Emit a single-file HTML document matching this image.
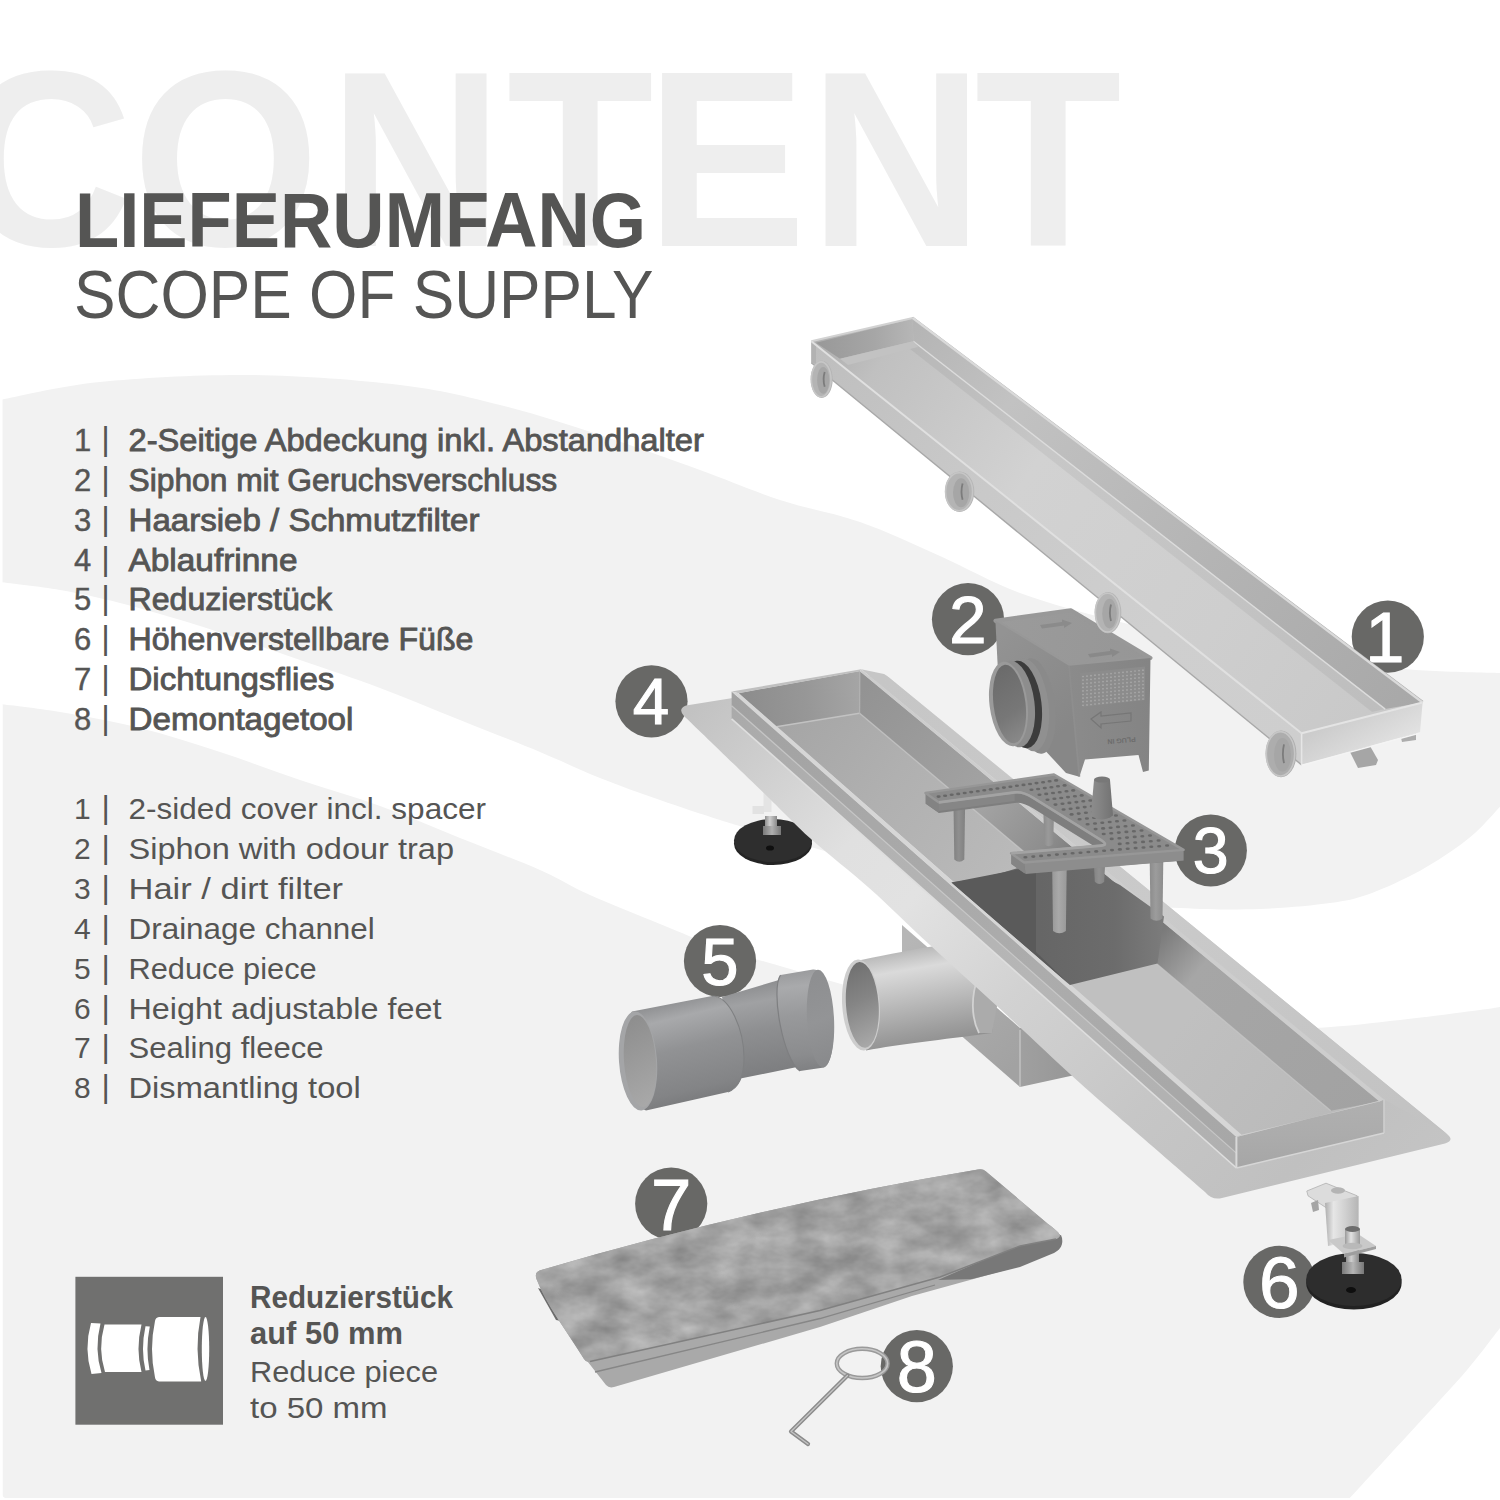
<!DOCTYPE html>
<html lang="de">
<head>
<meta charset="utf-8">
<title>Lieferumfang / Scope of supply</title>
<style>
html,body{margin:0;padding:0;background:#fff;}
body{width:1500px;height:1500px;overflow:hidden;position:relative;font-family:"Liberation Sans",sans-serif;}
svg{display:block;position:absolute;left:0;top:0;}
text{font-family:"Liberation Sans",sans-serif;}
</style>
</head>
<body>
<svg width="1500" height="1500" viewBox="0 0 1500 1500">
<g><rect width="1500" height="1500" fill="#ffffff"/>
<path d="M0.0 400.0C16.7 397.0 58.3 386.2 100.0 382.0 C141.7 377.8 200.0 374.5 250.0 375.0 C300.0 375.5 358.3 380.0 400.0 385.0 C441.7 390.0 466.7 396.7 500.0 405.0 C533.3 413.3 566.7 424.2 600.0 435.0 C633.3 445.8 670.0 459.2 700.0 470.0 C730.0 480.8 753.3 491.3 780.0 500.0 C806.7 508.7 833.3 512.7 860.0 522.0 C886.7 531.3 913.3 544.2 940.0 556.0 C966.7 567.8 990.0 582.0 1020.0 593.0 C1050.0 604.0 1081.7 612.5 1120.0 622.0 C1158.3 631.5 1211.7 643.0 1250.0 650.0 C1288.3 657.0 1320.8 660.6 1350.0 664.0 C1379.2 667.4 1400.0 669.0 1425.0 670.5 C1450.0 672.0 1487.5 672.6 1500.0 673.0L1500.0 806.7C1495.8 811.1 1484.0 825.0 1475.0 833.0 C1466.0 841.0 1456.8 847.5 1446.0 854.7 C1435.2 861.9 1423.2 869.3 1410.0 876.0 C1396.8 882.7 1380.3 890.2 1367.0 894.7 C1353.7 899.2 1347.8 900.6 1330.0 903.0 C1312.2 905.4 1285.0 908.2 1260.0 909.0 C1235.0 909.8 1215.0 909.8 1180.0 908.0 C1145.0 906.2 1088.3 902.3 1050.0 898.0 C1011.7 893.7 983.3 888.7 950.0 882.0 C916.7 875.3 881.7 866.3 850.0 858.0 C818.3 849.7 781.7 838.3 760.0 832.0 C738.3 825.7 736.7 825.3 720.0 820.0 C703.3 814.7 680.0 807.0 660.0 800.0 C640.0 793.0 620.0 786.0 600.0 778.0 C580.0 770.0 563.3 761.7 540.0 752.0 C516.7 742.3 486.7 730.7 460.0 720.0 C433.3 709.3 406.7 698.0 380.0 688.0 C353.3 678.0 330.0 670.3 300.0 660.0 C270.0 649.7 230.0 635.5 200.0 626.0 C170.0 616.5 143.3 609.0 120.0 603.0 C96.7 597.0 80.0 593.5 60.0 590.0 C40.0 586.5 10.0 583.3 0.0 582.0Z" fill="#f2f2f2"/>
<path d="M0.0 704.0C10.0 705.3 36.7 708.0 60.0 712.0 C83.3 716.0 113.3 721.3 140.0 728.0 C166.7 734.7 193.3 743.3 220.0 752.0 C246.7 760.7 273.3 771.0 300.0 780.0 C326.7 789.0 353.3 796.3 380.0 806.0 C406.7 815.7 433.3 827.3 460.0 838.0 C486.7 848.7 518.3 860.5 540.0 870.0 C561.7 879.5 570.0 886.0 590.0 895.0 C610.0 904.0 638.3 915.2 660.0 924.0 C681.7 932.8 700.0 941.0 720.0 948.0 C740.0 955.0 753.3 958.3 780.0 966.0 C806.7 973.7 843.3 985.7 880.0 994.0 C916.7 1002.3 963.3 1010.5 1000.0 1016.0 C1036.7 1021.5 1066.7 1024.3 1100.0 1027.0 C1133.3 1029.7 1164.0 1031.8 1200.0 1032.0 C1236.0 1032.2 1282.7 1030.0 1316.0 1028.0 C1349.3 1026.0 1372.7 1023.0 1400.0 1020.0 C1427.3 1017.0 1463.3 1012.2 1480.0 1010.0 C1496.7 1007.8 1496.7 1007.5 1500.0 1007.0L1500.0 1328.0C1494.5 1335.0 1480.8 1353.8 1467.0 1370.0 C1453.2 1386.2 1431.0 1409.7 1417.0 1425.0 C1403.0 1440.3 1394.5 1449.5 1383.0 1462.0 C1371.5 1474.5 1353.8 1493.7 1348.0 1500.0L6 1498 Q2.5 1498 2.5 1494 L2.5 704Z" fill="#f2f2f2"/>
<rect x="0" y="0" width="2.5" height="1500" fill="#ffffff"/>
<rect x="0" y="1498" width="1500" height="2" fill="#ffffff"/></g>
<g><text transform="scale(0.960,1)" x="-42.6 137.8 342.6 527.8 672.8 843.2 1015.3" y="246.4" font-size="250.5" font-weight="bold" fill="#eeeeee">CONTENT</text>
<text x="75.0" y="247.4" font-size="78.0" font-weight="bold" fill="#555554" textLength="571.0" lengthAdjust="spacingAndGlyphs">LIEFERUMFANG</text>
<text x="74.0" y="317.6" font-size="69.0" font-weight="normal" fill="#555554" textLength="579.5" lengthAdjust="spacingAndGlyphs">SCOPE OF SUPPLY</text>
<text x="74.0" y="451.2" font-size="31.0" font-weight="normal" fill="#555554" stroke="#555554" stroke-width="0.4">1</text>
<text x="101.3" y="450.2" font-size="33.0" font-weight="normal" fill="#555554">|</text>
<text x="128.5" y="451.2" font-size="31.0" font-weight="normal" fill="#555554" textLength="575.4" lengthAdjust="spacingAndGlyphs" stroke="#555554" stroke-width="0.85">2-Seitige Abdeckung inkl. Abstandhalter</text>
<text x="74.0" y="490.9" font-size="31.0" font-weight="normal" fill="#555554" stroke="#555554" stroke-width="0.4">2</text>
<text x="101.3" y="489.9" font-size="33.0" font-weight="normal" fill="#555554">|</text>
<text x="128.5" y="490.9" font-size="31.0" font-weight="normal" fill="#555554" textLength="428.7" lengthAdjust="spacingAndGlyphs" stroke="#555554" stroke-width="0.85">Siphon mit Geruchsverschluss</text>
<text x="74.0" y="530.7" font-size="31.0" font-weight="normal" fill="#555554" stroke="#555554" stroke-width="0.4">3</text>
<text x="101.3" y="529.7" font-size="33.0" font-weight="normal" fill="#555554">|</text>
<text x="128.5" y="530.7" font-size="31.0" font-weight="normal" fill="#555554" textLength="351.0" lengthAdjust="spacingAndGlyphs" stroke="#555554" stroke-width="0.85">Haarsieb / Schmutzfilter</text>
<text x="74.0" y="570.5" font-size="31.0" font-weight="normal" fill="#555554" stroke="#555554" stroke-width="0.4">4</text>
<text x="101.3" y="569.5" font-size="33.0" font-weight="normal" fill="#555554">|</text>
<text x="128.5" y="570.5" font-size="31.0" font-weight="normal" fill="#555554" textLength="169.0" lengthAdjust="spacingAndGlyphs" stroke="#555554" stroke-width="0.85">Ablaufrinne</text>
<text x="74.0" y="610.2" font-size="31.0" font-weight="normal" fill="#555554" stroke="#555554" stroke-width="0.4">5</text>
<text x="101.3" y="609.2" font-size="33.0" font-weight="normal" fill="#555554">|</text>
<text x="128.5" y="610.2" font-size="31.0" font-weight="normal" fill="#555554" textLength="203.5" lengthAdjust="spacingAndGlyphs" stroke="#555554" stroke-width="0.85">Reduzierstück</text>
<text x="74.0" y="650.0" font-size="31.0" font-weight="normal" fill="#555554" stroke="#555554" stroke-width="0.4">6</text>
<text x="101.3" y="649.0" font-size="33.0" font-weight="normal" fill="#555554">|</text>
<text x="128.5" y="650.0" font-size="31.0" font-weight="normal" fill="#555554" textLength="345.0" lengthAdjust="spacingAndGlyphs" stroke="#555554" stroke-width="0.85">Höhenverstellbare Füße</text>
<text x="74.0" y="689.7" font-size="31.0" font-weight="normal" fill="#555554" stroke="#555554" stroke-width="0.4">7</text>
<text x="101.3" y="688.7" font-size="33.0" font-weight="normal" fill="#555554">|</text>
<text x="128.5" y="689.7" font-size="31.0" font-weight="normal" fill="#555554" textLength="205.8" lengthAdjust="spacingAndGlyphs" stroke="#555554" stroke-width="0.85">Dichtungsflies</text>
<text x="74.0" y="729.5" font-size="31.0" font-weight="normal" fill="#555554" stroke="#555554" stroke-width="0.4">8</text>
<text x="101.3" y="728.5" font-size="33.0" font-weight="normal" fill="#555554">|</text>
<text x="128.5" y="729.5" font-size="31.0" font-weight="normal" fill="#555554" textLength="224.9" lengthAdjust="spacingAndGlyphs" stroke="#555554" stroke-width="0.85">Demontagetool</text>
<text x="74.0" y="819.0" font-size="30.0" font-weight="normal" fill="#555554">1</text>
<text x="101.5" y="818.0" font-size="32.0" font-weight="normal" fill="#555554">|</text>
<text x="128.5" y="819.0" font-size="30.0" font-weight="normal" fill="#555554" textLength="357.5" lengthAdjust="spacingAndGlyphs">2-sided cover incl. spacer</text>
<text x="74.0" y="858.9" font-size="30.0" font-weight="normal" fill="#555554">2</text>
<text x="101.5" y="857.9" font-size="32.0" font-weight="normal" fill="#555554">|</text>
<text x="128.5" y="858.9" font-size="30.0" font-weight="normal" fill="#555554" textLength="325.5" lengthAdjust="spacingAndGlyphs">Siphon with odour trap</text>
<text x="74.0" y="898.8" font-size="30.0" font-weight="normal" fill="#555554">3</text>
<text x="101.5" y="897.8" font-size="32.0" font-weight="normal" fill="#555554">|</text>
<text x="128.5" y="898.8" font-size="30.0" font-weight="normal" fill="#555554" textLength="214.6" lengthAdjust="spacingAndGlyphs">Hair / dirt filter</text>
<text x="74.0" y="938.7" font-size="30.0" font-weight="normal" fill="#555554">4</text>
<text x="101.5" y="937.7" font-size="32.0" font-weight="normal" fill="#555554">|</text>
<text x="128.5" y="938.7" font-size="30.0" font-weight="normal" fill="#555554" textLength="246.3" lengthAdjust="spacingAndGlyphs">Drainage channel</text>
<text x="74.0" y="978.6" font-size="30.0" font-weight="normal" fill="#555554">5</text>
<text x="101.5" y="977.6" font-size="32.0" font-weight="normal" fill="#555554">|</text>
<text x="128.5" y="978.6" font-size="30.0" font-weight="normal" fill="#555554" textLength="188.2" lengthAdjust="spacingAndGlyphs">Reduce piece</text>
<text x="74.0" y="1018.5" font-size="30.0" font-weight="normal" fill="#555554">6</text>
<text x="101.5" y="1017.5" font-size="32.0" font-weight="normal" fill="#555554">|</text>
<text x="128.5" y="1018.5" font-size="30.0" font-weight="normal" fill="#555554" textLength="312.9" lengthAdjust="spacingAndGlyphs">Height adjustable feet</text>
<text x="74.0" y="1058.4" font-size="30.0" font-weight="normal" fill="#555554">7</text>
<text x="101.5" y="1057.4" font-size="32.0" font-weight="normal" fill="#555554">|</text>
<text x="128.5" y="1058.4" font-size="30.0" font-weight="normal" fill="#555554" textLength="195.0" lengthAdjust="spacingAndGlyphs">Sealing fleece</text>
<text x="74.0" y="1098.3" font-size="30.0" font-weight="normal" fill="#555554">8</text>
<text x="101.5" y="1097.3" font-size="32.0" font-weight="normal" fill="#555554">|</text>
<text x="128.5" y="1098.3" font-size="30.0" font-weight="normal" fill="#555554" textLength="232.2" lengthAdjust="spacingAndGlyphs">Dismantling tool</text>
<text x="250.0" y="1308.2" font-size="30.5" font-weight="bold" fill="#555554" textLength="203.0" lengthAdjust="spacingAndGlyphs">Reduzierstück</text>
<text x="250.0" y="1344.4" font-size="30.5" font-weight="bold" fill="#555554" textLength="153.0" lengthAdjust="spacingAndGlyphs">auf 50 mm</text>
<text x="250.0" y="1381.8" font-size="30.0" font-weight="normal" fill="#555554" textLength="188.0" lengthAdjust="spacingAndGlyphs">Reduce piece</text>
<text x="250.0" y="1418.2" font-size="30.0" font-weight="normal" fill="#555554" textLength="137.5" lengthAdjust="spacingAndGlyphs">to 50 mm</text></g>
<g><circle cx="1387.8" cy="636.7" r="36.1" fill="#686866"/>
<text x="1384.8" y="662.4" font-size="70.5" font-weight="normal" fill="#ffffff" stroke="#ffffff" stroke-width="1.1" text-anchor="middle">1</text>
<circle cx="968.0" cy="619.2" r="36.1" fill="#686866"/>
<text x="968.0" y="642.7" font-size="67.0" font-weight="normal" fill="#ffffff" stroke="#ffffff" stroke-width="1.1" text-anchor="middle">2</text>
<circle cx="1210.8" cy="850.5" r="36.1" fill="#686866"/>
<text x="1210.8" y="873.4" font-size="64.5" font-weight="normal" fill="#ffffff" stroke="#ffffff" stroke-width="1.1" text-anchor="middle">3</text>
<circle cx="651.5" cy="701.3" r="36.1" fill="#686866"/>
<text x="651.0" y="724.2" font-size="65.5" font-weight="normal" fill="#ffffff" stroke="#ffffff" stroke-width="1.1" text-anchor="middle">4</text>
<circle cx="720.0" cy="961.0" r="36.1" fill="#686866"/>
<text x="720.0" y="984.5" font-size="67.0" font-weight="normal" fill="#ffffff" stroke="#ffffff" stroke-width="1.1" text-anchor="middle">5</text>
<circle cx="1279.4" cy="1281.9" r="36.1" fill="#686866"/>
<text x="1279.4" y="1307.5" font-size="73.0" font-weight="normal" fill="#ffffff" stroke="#ffffff" stroke-width="1.1" text-anchor="middle">6</text>
<circle cx="671.2" cy="1203.7" r="36.1" fill="#686866"/>
<text x="671.2" y="1230.2" font-size="72.5" font-weight="normal" fill="#ffffff" stroke="#ffffff" stroke-width="1.1" text-anchor="middle">7</text>
<circle cx="916.8" cy="1366.2" r="36.1" fill="#686866"/>
<text x="916.8" y="1391.9" font-size="72.0" font-weight="normal" fill="#ffffff" stroke="#ffffff" stroke-width="1.1" text-anchor="middle">8</text></g>
<defs><linearGradient id="g1" gradientUnits="userSpaceOnUse" x1="765.0" y1="0.0" x2="777.0" y2="0.0"><stop offset="0" stop-color="#8f8f8f"/><stop offset="0.4" stop-color="#cfcfcf"/><stop offset="1" stop-color="#8a8a8a"/></linearGradient>
<linearGradient id="g2" gradientUnits="userSpaceOnUse" x1="763.0" y1="0.0" x2="781.0" y2="0.0"><stop offset="0" stop-color="#7a7a7a"/><stop offset="0.5" stop-color="#b0b0b0"/><stop offset="1" stop-color="#777777"/></linearGradient>
<linearGradient id="g3" gradientUnits="userSpaceOnUse" x1="902.0" y1="950.0" x2="1020.0" y2="1060.0"><stop offset="0" stop-color="#b6b6b6"/><stop offset="0.6" stop-color="#a9a9a9"/><stop offset="1" stop-color="#a2a2a2"/></linearGradient>
<linearGradient id="g4" gradientUnits="userSpaceOnUse" x1="1020.0" y1="0.0" x2="1075.0" y2="0.0"><stop offset="0" stop-color="#a0a0a0"/><stop offset="1" stop-color="#969696"/></linearGradient>
<linearGradient id="g5" gradientUnits="userSpaceOnUse" x1="905.0" y1="948.0" x2="922.0" y2="1046.0"><stop offset="0" stop-color="#b4b4b4"/><stop offset="0.22" stop-color="#dadada"/><stop offset="0.5" stop-color="#bfbfbf"/><stop offset="0.85" stop-color="#9d9d9d"/><stop offset="1" stop-color="#909090"/></linearGradient>
<linearGradient id="g6" gradientUnits="userSpaceOnUse" x1="845.0" y1="960.0" x2="882.0" y2="1050.0"><stop offset="0" stop-color="#6c6c6c"/><stop offset="0.45" stop-color="#858585"/><stop offset="1" stop-color="#b0b0b0"/></linearGradient>
<linearGradient id="g7" gradientUnits="userSpaceOnUse" x1="690.0" y1="712.0" x2="1330.0" y2="1280.0"><stop offset="0" stop-color="#c2c2c2"/><stop offset="0.1" stop-color="#cecece"/><stop offset="0.24" stop-color="#e0e0e0"/><stop offset="0.34" stop-color="#e2e2e2"/><stop offset="0.5" stop-color="#d2d2d2"/><stop offset="0.7" stop-color="#c6c6c6"/><stop offset="0.88" stop-color="#c0c0c0"/><stop offset="1" stop-color="#c4c4c4"/></linearGradient>
<linearGradient id="g8" gradientUnits="userSpaceOnUse" x1="880.0" y1="680.0" x2="1440.0" y2="1130.0"><stop offset="0" stop-color="#c6c6c6"/><stop offset="0.5" stop-color="#cacaca"/><stop offset="1" stop-color="#c2c2c2"/></linearGradient>
<linearGradient id="g9" gradientUnits="userSpaceOnUse" x1="735.0" y1="700.0" x2="1236.0" y2="1150.0"><stop offset="0" stop-color="#aaaaaa"/><stop offset="0.3" stop-color="#b2b2b2"/><stop offset="0.6" stop-color="#b6b6b6"/><stop offset="1" stop-color="#b0b0b0"/></linearGradient>
<linearGradient id="g10" gradientUnits="userSpaceOnUse" x1="0.0" y1="1100.0" x2="0.0" y2="1168.0"><stop offset="0" stop-color="#b0b0b0"/><stop offset="0.5" stop-color="#acacac"/><stop offset="1" stop-color="#a6a6a6"/></linearGradient>
<linearGradient id="g11" gradientUnits="userSpaceOnUse" x1="770.0" y1="715.0" x2="1320.0" y2="1125.0"><stop offset="0" stop-color="#a4a4a4"/><stop offset="0.2" stop-color="#b0b0b0"/><stop offset="0.4" stop-color="#b9b9b9"/><stop offset="0.52" stop-color="#c0c0c0"/><stop offset="0.75" stop-color="#c0c0c0"/><stop offset="1" stop-color="#bababa"/></linearGradient>
<linearGradient id="g12" gradientUnits="userSpaceOnUse" x1="740.0" y1="700.0" x2="860.0" y2="690.0"><stop offset="0" stop-color="#8c8c8c"/><stop offset="0.55" stop-color="#979797"/><stop offset="1" stop-color="#a5a5a5"/></linearGradient>
<linearGradient id="g13" gradientUnits="userSpaceOnUse" x1="862.0" y1="690.0" x2="1380.0" y2="1105.0"><stop offset="0" stop-color="#939393"/><stop offset="0.25" stop-color="#a3a3a3"/><stop offset="0.36" stop-color="#8e8e8e"/><stop offset="0.44" stop-color="#6c6c6c"/><stop offset="0.58" stop-color="#7a7a7a"/><stop offset="0.66" stop-color="#a6a6a6"/><stop offset="1" stop-color="#a2a2a2"/></linearGradient>
<linearGradient id="g14" gradientUnits="userSpaceOnUse" x1="1040.0" y1="0.0" x2="1165.0" y2="0.0"><stop offset="0" stop-color="#666666"/><stop offset="0.6" stop-color="#6c6c6c"/><stop offset="1" stop-color="#7c7c7c"/></linearGradient>
<linearGradient id="g15" gradientUnits="userSpaceOnUse" x1="811.0" y1="350.0" x2="1301.0" y2="750.0"><stop offset="0" stop-color="#bebebe"/><stop offset="0.3" stop-color="#c8c8c8"/><stop offset="0.7" stop-color="#cfcfcf"/><stop offset="1" stop-color="#cecece"/></linearGradient>
<linearGradient id="g16" gradientUnits="userSpaceOnUse" x1="1301.0" y1="740.0" x2="1330.0" y2="790.0"><stop offset="0" stop-color="#cccccc"/><stop offset="0.5" stop-color="#d8d8d8"/><stop offset="1" stop-color="#e4e4e4"/></linearGradient>
<linearGradient id="g17" gradientUnits="userSpaceOnUse" x1="830.0" y1="340.0" x2="1400.0" y2="720.0"><stop offset="0" stop-color="#b0b0b0"/><stop offset="0.08" stop-color="#c0c0c0"/><stop offset="0.35" stop-color="#d2d2d2"/><stop offset="0.7" stop-color="#cecece"/><stop offset="1" stop-color="#c8c8c8"/></linearGradient>
<linearGradient id="g18" gradientUnits="userSpaceOnUse" x1="912.0" y1="320.0" x2="1420.0" y2="705.0"><stop offset="0" stop-color="#b4b4b4"/><stop offset="0.2" stop-color="#c2c2c2"/><stop offset="0.6" stop-color="#b4b4b4"/><stop offset="1" stop-color="#a8a8a8"/></linearGradient>
<linearGradient id="g19" gradientUnits="userSpaceOnUse" x1="816.0" y1="0.0" x2="913.0" y2="0.0"><stop offset="0" stop-color="#989898"/><stop offset="0.6" stop-color="#a6a6a6"/><stop offset="1" stop-color="#b6b6b6"/></linearGradient>
<linearGradient id="g20" gradientUnits="userSpaceOnUse" x1="995.0" y1="615.0" x2="1150.0" y2="660.0"><stop offset="0" stop-color="#9b9b9b"/><stop offset="1" stop-color="#969696"/></linearGradient>
<linearGradient id="g21" gradientUnits="userSpaceOnUse" x1="995.0" y1="640.0" x2="1075.0" y2="720.0"><stop offset="0" stop-color="#939393"/><stop offset="1" stop-color="#878787"/></linearGradient>
<linearGradient id="g22" gradientUnits="userSpaceOnUse" x1="1069.0" y1="700.0" x2="1150.0" y2="700.0"><stop offset="0" stop-color="#8b8b8b"/><stop offset="1" stop-color="#848484"/></linearGradient>
<linearGradient id="g23" gradientUnits="userSpaceOnUse" x1="992.0" y1="670.0" x2="1028.0" y2="740.0"><stop offset="0" stop-color="#6a6a6a"/><stop offset="0.6" stop-color="#777777"/><stop offset="1" stop-color="#8c8c8c"/></linearGradient>
<linearGradient id="g24" gradientUnits="userSpaceOnUse" x1="953.5" y1="0.0" x2="965.1" y2="0.0"><stop offset="0" stop-color="#818181"/><stop offset="0.45" stop-color="#8f8f8f"/><stop offset="1" stop-color="#818181"/></linearGradient>
<linearGradient id="g25" gradientUnits="userSpaceOnUse" x1="1043.4" y1="0.0" x2="1054.0" y2="0.0"><stop offset="0" stop-color="#8c8c8c"/><stop offset="0.45" stop-color="#9a9a9a"/><stop offset="1" stop-color="#8c8c8c"/></linearGradient>
<linearGradient id="g26" gradientUnits="userSpaceOnUse" x1="1052.2" y1="0.0" x2="1066.7" y2="0.0"><stop offset="0" stop-color="#999999"/><stop offset="0.45" stop-color="#a9a9a9"/><stop offset="1" stop-color="#999999"/></linearGradient>
<linearGradient id="g27" gradientUnits="userSpaceOnUse" x1="1149.7" y1="0.0" x2="1163.3" y2="0.0"><stop offset="0" stop-color="#8c8c8c"/><stop offset="0.45" stop-color="#9c9c9c"/><stop offset="1" stop-color="#8c8c8c"/></linearGradient>
<linearGradient id="g28" gradientUnits="userSpaceOnUse" x1="1094.0" y1="0.0" x2="1105.0" y2="0.0"><stop offset="0" stop-color="#848484"/><stop offset="0.45" stop-color="#909090"/><stop offset="1" stop-color="#848484"/></linearGradient>
<linearGradient id="g29" gradientUnits="userSpaceOnUse" x1="1091.0" y1="0.0" x2="1113.0" y2="0.0"><stop offset="0" stop-color="#8c8c8c"/><stop offset="0.35" stop-color="#858585"/><stop offset="1" stop-color="#727272"/></linearGradient>
<linearGradient id="g30" gradientUnits="userSpaceOnUse" x1="745.0" y1="985.0" x2="762.0" y2="1077.0"><stop offset="0" stop-color="#8c8d8f"/><stop offset="0.2" stop-color="#a0a1a3"/><stop offset="0.5" stop-color="#8e8f91"/><stop offset="1" stop-color="#7c7d7f"/></linearGradient>
<linearGradient id="g31" gradientUnits="userSpaceOnUse" x1="790.0" y1="971.0" x2="802.0" y2="1070.0"><stop offset="0" stop-color="#999a9c"/><stop offset="0.16" stop-color="#a9aaac"/><stop offset="0.45" stop-color="#98999b"/><stop offset="0.85" stop-color="#8b8c8e"/><stop offset="1" stop-color="#808183"/></linearGradient>
<linearGradient id="g32" gradientUnits="userSpaceOnUse" x1="808.0" y1="980.0" x2="834.0" y2="1060.0"><stop offset="0" stop-color="#8e8f91"/><stop offset="0.5" stop-color="#939496"/><stop offset="1" stop-color="#898a8c"/></linearGradient>
<linearGradient id="g33" gradientUnits="userSpaceOnUse" x1="665.0" y1="1003.0" x2="690.0" y2="1106.0"><stop offset="0" stop-color="#8f9092"/><stop offset="0.16" stop-color="#a8a9ab"/><stop offset="0.45" stop-color="#919294"/><stop offset="0.85" stop-color="#838486"/><stop offset="1" stop-color="#78797b"/></linearGradient>
<linearGradient id="g34" gradientUnits="userSpaceOnUse" x1="622.0" y1="1020.0" x2="660.0" y2="1100.0"><stop offset="0" stop-color="#8d8d8d"/><stop offset="0.5" stop-color="#9b9b9b"/><stop offset="1" stop-color="#a9a9a9"/></linearGradient>
<filter id="mott" x="0" y="0" width="100%" height="100%" color-interpolation-filters="sRGB"><feTurbulence type="fractalNoise" baseFrequency="0.024 0.04" numOctaves="4" seed="11" result="n"/><feColorMatrix in="n" type="matrix" values="0.30 0 0 0 0.487  0.30 0 0 0 0.487  0.30 0 0 0 0.487  0 0 0 0 1" result="g"/><feComposite in="g" in2="SourceGraphic" operator="in"/></filter>
<linearGradient id="g35" gradientUnits="userSpaceOnUse" x1="1346.0" y1="0.0" x2="1359.0" y2="0.0"><stop offset="0" stop-color="#8f8f8f"/><stop offset="0.4" stop-color="#cfcfcf"/><stop offset="1" stop-color="#8a8a8a"/></linearGradient>
<linearGradient id="g36" gradientUnits="userSpaceOnUse" x1="1342.0" y1="0.0" x2="1364.0" y2="0.0"><stop offset="0" stop-color="#7a7a7a"/><stop offset="0.5" stop-color="#b5b5b5"/><stop offset="1" stop-color="#777777"/></linearGradient>
<linearGradient id="g37" gradientUnits="userSpaceOnUse" x1="1325.0" y1="0.0" x2="1359.0" y2="0.0"><stop offset="0" stop-color="#aeaeae"/><stop offset="0.25" stop-color="#e6e6e6"/><stop offset="0.6" stop-color="#d0d0d0"/><stop offset="1" stop-color="#b4b4b4"/></linearGradient>
<linearGradient id="g38" gradientUnits="userSpaceOnUse" x1="1345.0" y1="0.0" x2="1360.0" y2="0.0"><stop offset="0" stop-color="#9a9a9a"/><stop offset="0.4" stop-color="#e2e2e2"/><stop offset="1" stop-color="#9a9a9a"/></linearGradient></defs>
<g><g><ellipse cx="773" cy="843.5" rx="39" ry="21.5" fill="#242424"/>
<ellipse cx="773" cy="840.5" rx="39" ry="21.5" fill="#2e2e2e"/>
<polygon points="763.5,790.0 771.5,790.0 771.5,812.0 763.5,812.0" fill="#e4e4e4" />
<polygon points="752.5,806.0 764.0,806.0 764.0,814.0 752.5,814.0" fill="#e2e2e2" />
<polygon points="765.0,816.0 777.0,816.0 777.0,832.0 765.0,832.0" fill="url(#g1)" />
<polygon points="763.0,826.0 781.0,826.0 781.0,835.0 763.0,835.0" fill="url(#g2)" />
<ellipse cx="770" cy="848" rx="4" ry="2.6" fill="#0f0f0f"/>
<polygon points="902.0,925.0 1020.0,1028.0 1020.0,1087.0 902.0,984.0" fill="url(#g3)" />
<polygon points="1020.0,1028.0 1075.0,1015.0 1075.0,1075.0 1020.0,1087.0" fill="url(#g4)" />
<line x1="1020.0" y1="1030.0" x2="1020.0" y2="1087.0" stroke="#c4c4c4" stroke-width="1.4" />
<path d="M861 960 C890 954 915 949 935 946 L1000 990 C996 1005 994 1020 992 1033 C940 1040 900 1044 866 1050.5 Z" fill="url(#g5)" />
<path d="M978 978 C971 995 971 1018 979 1033 L992 1033 L1000 990 Z" fill="#ababab" />
<path d="M978 978 C971 995 971 1018 979 1033" fill="none" stroke="#d2d2d2" stroke-width="1.8"/>
<ellipse cx="861" cy="1005" rx="18.8" ry="45.6" fill="#cdcdcd" transform="rotate(-4 861 1005)"/>
<ellipse cx="862.3" cy="1005" rx="16.3" ry="43" fill="url(#g6)" transform="rotate(-4 861 1005)"/>
<path d="M686 705.6 L878 674.3 Q884.5 673.3 889 677.5 L1447 1134 Q1455 1140.5 1445 1143.5 L1222 1198 Q1212 1200.5 1205 1192 C1197.0 1185.1 1178.9 1169.4 1157.3 1150.5 C1135.7 1131.6 1099.8 1100.8 1075.2 1078.7 C1050.7 1056.6 1034.2 1040.3 1010.0 1018.0 C985.8 995.7 953.3 966.5 930.0 945.0 C906.7 923.5 889.8 906.3 870.0 888.7 C850.2 871.1 829.3 855.5 811.3 839.3 C793.3 823.1 783.2 811.8 762.0 791.3 C740.8 770.8 697.0 728.5 684.0 716.0 Q677.5 709 686 705.6 Z" fill="url(#g7)" />
<polygon points="861.2,669.2 884.0,674.0 889.0,677.5 1447.0,1134.0 1384.0,1099.5" fill="url(#g8)" />
<polygon points="731.6,691.6 1236.4,1137.0 1236.4,1168.0 731.6,718.8" fill="url(#g9)" />
<polygon points="731.6,691.6 1236.4,1137.0 1236.4,1153.1 731.6,705.7" fill="#000000" opacity="0.05"/>
<line x1="731.6" y1="705.7" x2="1236.4" y2="1153.1" stroke="#d2d2d2" stroke-width="1.2" opacity="0.7"/>
<line x1="731.6" y1="718.8" x2="1236.4" y2="1168.0" stroke="#dedede" stroke-width="1.6" />
<polygon points="1236.4,1137.0 1384.0,1099.5 1384.0,1133.0 1236.4,1168.0" fill="url(#g10)" />
<line x1="1236.4" y1="1168.0" x2="1384.0" y2="1133.0" stroke="#d6d6d6" stroke-width="1.4" />
<line x1="1236.4" y1="1137.0" x2="1236.4" y2="1168.0" stroke="#d8d8d8" stroke-width="2.0" />
<line x1="1384.0" y1="1099.5" x2="1384.0" y2="1133.0" stroke="#cfcfcf" stroke-width="1.6" />
<polygon points="738.8,693.2 859.8,671.2 1379.5,1101.6 1241.5,1134.8" fill="url(#g11)" />
<polygon points="738.8,693.2 859.8,671.2 859.6,713.2 776.4,726.8" fill="url(#g12)" />
<line x1="776.4" y1="726.8" x2="859.6" y2="713.2" stroke="#c2c2c2" stroke-width="1.5" />
<polygon points="859.8,671.2 1379.5,1101.6 1330.7,1110.7 859.6,713.2" fill="url(#g13)" />
<line x1="859.6" y1="713.2" x2="1330.7" y2="1110.7" stroke="#c6c6c6" stroke-width="1.3" opacity="0.8"/>
<line x1="859.8" y1="671.2" x2="859.6" y2="713.2" stroke="#b2b2b2" stroke-width="1.2" />
<polygon points="731.6,691.6 861.2,669.2 859.8,671.2 738.8,693.2" fill="#c0c0c0" />
<polygon points="861.2,669.2 1384.0,1099.5 1379.5,1101.6 859.8,671.2" fill="#cdcdcd" />
<polygon points="731.6,691.6 738.8,693.2 1241.5,1134.8 1236.4,1137.0" fill="#d6d6d6" />
<polygon points="1236.4,1137.0 1241.5,1134.8 1379.5,1101.6 1384.0,1099.5" fill="#d0d0d0" />
<path d="M951.5 882.4 Q990 878 1023 866.4 L1075 862 L1120 885 L1164 916.5 L1157.5 963.5 L1070 985 Z" fill="url(#g14)" />
<polygon points="951.5,882.4 1036.0,866.0 1036.0,952.0 1070.0,985.0" fill="#5a5a5a" /></g>
<g><polygon points="1349.0,750.0 1370.0,746.0 1378.0,760.0 1376.0,765.0 1358.0,768.0" fill="#a6a6a6" />
<polygon points="1400.0,733.0 1416.0,730.0 1416.0,740.0 1402.0,742.0" fill="#adadad" />
<polygon points="811.3,341.3 1301.6,733.3 1301.6,764.9 811.3,362.7" fill="url(#g15)" />
<line x1="811.3" y1="362.7" x2="1301.6" y2="764.9" stroke="#a8a8a8" stroke-width="1.4" />
<polygon points="811.3,341.3 816.0,342.5 816.0,364.0 811.3,362.7" fill="#b2b2b2" />
<polygon points="1301.6,733.3 1422.6,702.5 1420.0,732.6 1301.6,764.9" fill="url(#g16)" />
<polygon points="811.3,341.3 912.7,318.0 1422.6,702.5 1301.6,733.3" fill="url(#g17)" />
<polygon points="913.3,341.3 1385.2,709.1 1372.0,712.0 905.0,345.0" fill="#000" opacity="0.05"/>
<polygon points="912.7,318.0 1422.6,702.5 1385.2,709.1 913.3,341.3" fill="url(#g18)" />
<line x1="913.3" y1="341.3" x2="1385.2" y2="709.1" stroke="#dcdcdc" stroke-width="1.4" />
<polygon points="816.0,342.7 912.7,318.7 913.3,341.3 840.0,358.7" fill="url(#g19)" />
<polygon points="840.0,358.7 913.3,341.3 918.0,347.0 848.0,365.0" fill="#c2c2c2" />
<line x1="811.3" y1="341.3" x2="912.7" y2="318.0" stroke="#d2d2d2" stroke-width="2.0" />
<line x1="912.7" y1="317.2" x2="1423.0" y2="701.6" stroke="#a8a8a8" stroke-width="1.3" />
<line x1="912.7" y1="318.0" x2="1422.6" y2="702.5" stroke="#dadada" stroke-width="2.2" />
<line x1="811.3" y1="341.3" x2="1301.6" y2="733.3" stroke="#e0e0e0" stroke-width="2.0" />
<line x1="1301.6" y1="733.3" x2="1422.6" y2="702.5" stroke="#e4e4e4" stroke-width="2.2" />
<line x1="1301.6" y1="733.3" x2="1301.6" y2="764.9" stroke="#e6e6e6" stroke-width="1.6" />
<line x1="1301.6" y1="765.3" x2="1420.0" y2="733.0" stroke="#f4f4f4" stroke-width="1.4" />
<ellipse cx="821.7" cy="379.3" rx="11.0" ry="18.6" fill="#b4b4b4"/><ellipse cx="821.2" cy="379.3" rx="9.8" ry="17.4" fill="none" stroke="#c6c6c6" stroke-width="1.6"/><ellipse cx="823.2" cy="380.3" rx="6.1" ry="13.4" fill="#a6a6a6"/><path d="M824.7 371.9 q-2.2 7.4 0 14.9" fill="none" stroke="#7c7c7c" stroke-width="1.8"/>
<ellipse cx="959.6" cy="491.7" rx="14.7" ry="20.2" fill="#b4b4b4"/><ellipse cx="959.1" cy="491.7" rx="13.5" ry="19.0" fill="none" stroke="#c6c6c6" stroke-width="1.6"/><ellipse cx="961.1" cy="492.7" rx="8.1" ry="14.5" fill="#a6a6a6"/><path d="M962.6 483.6 q-2.2 8.1 0 16.2" fill="none" stroke="#7c7c7c" stroke-width="1.8"/>
<ellipse cx="1281.0" cy="753.8" rx="15.4" ry="23.4" fill="#adadad"/><ellipse cx="1280.5" cy="753.8" rx="14.2" ry="22.2" fill="none" stroke="#c6c6c6" stroke-width="1.6"/><ellipse cx="1282.5" cy="754.8" rx="8.5" ry="16.8" fill="#a6a6a6"/><path d="M1284.0 744.4 q-2.2 9.4 0 18.7" fill="none" stroke="#7c7c7c" stroke-width="1.8"/></g>
<g><path d="M995.4 620.7 L1070.8 610.3 L1150.5 658.0 L1069.0 665.8 Z" fill="url(#g20)" stroke="#989898" stroke-width="4" stroke-linejoin="round"/>
<polygon points="995.4,620.7 1069.0,665.8 1079.4,776.7 1066.0,773.0 1040.0,745.0 998.9,690.0" fill="url(#g21)" />
<path d="M1069.0 665.8 L1150.5 658.0 L1148.8 770.6 L1143 772 L1138.5 755 L1085 759.5 L1079.4 776.7 Z" fill="url(#g22)" />
<line x1="1069.0" y1="665.8" x2="1079.4" y2="776.7" stroke="#8e8e8e" stroke-width="1.8" />
<polygon points="1080.0,673.0 1145.0,666.5 1145.0,700.0 1083.0,707.0" fill="#8c8c8c" />
<circle cx="1083.0" cy="676.5" r="0.85" fill="#aaaaaa"/>
<circle cx="1087.0" cy="676.1" r="0.85" fill="#aaaaaa"/>
<circle cx="1091.0" cy="675.7" r="0.85" fill="#aaaaaa"/>
<circle cx="1095.0" cy="675.2" r="0.85" fill="#aaaaaa"/>
<circle cx="1099.0" cy="674.8" r="0.85" fill="#aaaaaa"/>
<circle cx="1103.0" cy="674.4" r="0.85" fill="#aaaaaa"/>
<circle cx="1107.0" cy="674.0" r="0.85" fill="#aaaaaa"/>
<circle cx="1111.0" cy="673.6" r="0.85" fill="#aaaaaa"/>
<circle cx="1115.0" cy="673.1" r="0.85" fill="#aaaaaa"/>
<circle cx="1119.0" cy="672.7" r="0.85" fill="#aaaaaa"/>
<circle cx="1123.0" cy="672.3" r="0.85" fill="#aaaaaa"/>
<circle cx="1127.0" cy="671.9" r="0.85" fill="#aaaaaa"/>
<circle cx="1131.0" cy="671.5" r="0.85" fill="#aaaaaa"/>
<circle cx="1135.0" cy="671.0" r="0.85" fill="#aaaaaa"/>
<circle cx="1139.0" cy="670.6" r="0.85" fill="#aaaaaa"/>
<circle cx="1143.0" cy="670.2" r="0.85" fill="#aaaaaa"/>
<circle cx="1083.0" cy="680.1" r="0.85" fill="#aaaaaa"/>
<circle cx="1087.0" cy="679.7" r="0.85" fill="#aaaaaa"/>
<circle cx="1091.0" cy="679.3" r="0.85" fill="#aaaaaa"/>
<circle cx="1095.0" cy="678.8" r="0.85" fill="#aaaaaa"/>
<circle cx="1099.0" cy="678.4" r="0.85" fill="#aaaaaa"/>
<circle cx="1103.0" cy="678.0" r="0.85" fill="#aaaaaa"/>
<circle cx="1107.0" cy="677.6" r="0.85" fill="#aaaaaa"/>
<circle cx="1111.0" cy="677.2" r="0.85" fill="#aaaaaa"/>
<circle cx="1115.0" cy="676.7" r="0.85" fill="#aaaaaa"/>
<circle cx="1119.0" cy="676.3" r="0.85" fill="#aaaaaa"/>
<circle cx="1123.0" cy="675.9" r="0.85" fill="#aaaaaa"/>
<circle cx="1127.0" cy="675.5" r="0.85" fill="#aaaaaa"/>
<circle cx="1131.0" cy="675.1" r="0.85" fill="#aaaaaa"/>
<circle cx="1135.0" cy="674.6" r="0.85" fill="#aaaaaa"/>
<circle cx="1139.0" cy="674.2" r="0.85" fill="#aaaaaa"/>
<circle cx="1143.0" cy="673.8" r="0.85" fill="#aaaaaa"/>
<circle cx="1083.0" cy="683.7" r="0.85" fill="#aaaaaa"/>
<circle cx="1087.0" cy="683.3" r="0.85" fill="#aaaaaa"/>
<circle cx="1091.0" cy="682.9" r="0.85" fill="#aaaaaa"/>
<circle cx="1095.0" cy="682.4" r="0.85" fill="#aaaaaa"/>
<circle cx="1099.0" cy="682.0" r="0.85" fill="#aaaaaa"/>
<circle cx="1103.0" cy="681.6" r="0.85" fill="#aaaaaa"/>
<circle cx="1107.0" cy="681.2" r="0.85" fill="#aaaaaa"/>
<circle cx="1111.0" cy="680.8" r="0.85" fill="#aaaaaa"/>
<circle cx="1115.0" cy="680.3" r="0.85" fill="#aaaaaa"/>
<circle cx="1119.0" cy="679.9" r="0.85" fill="#aaaaaa"/>
<circle cx="1123.0" cy="679.5" r="0.85" fill="#aaaaaa"/>
<circle cx="1127.0" cy="679.1" r="0.85" fill="#aaaaaa"/>
<circle cx="1131.0" cy="678.7" r="0.85" fill="#aaaaaa"/>
<circle cx="1135.0" cy="678.2" r="0.85" fill="#aaaaaa"/>
<circle cx="1139.0" cy="677.8" r="0.85" fill="#aaaaaa"/>
<circle cx="1143.0" cy="677.4" r="0.85" fill="#aaaaaa"/>
<circle cx="1083.0" cy="687.3" r="0.85" fill="#aaaaaa"/>
<circle cx="1087.0" cy="686.9" r="0.85" fill="#aaaaaa"/>
<circle cx="1091.0" cy="686.5" r="0.85" fill="#aaaaaa"/>
<circle cx="1095.0" cy="686.0" r="0.85" fill="#aaaaaa"/>
<circle cx="1099.0" cy="685.6" r="0.85" fill="#aaaaaa"/>
<circle cx="1103.0" cy="685.2" r="0.85" fill="#aaaaaa"/>
<circle cx="1107.0" cy="684.8" r="0.85" fill="#aaaaaa"/>
<circle cx="1111.0" cy="684.4" r="0.85" fill="#aaaaaa"/>
<circle cx="1115.0" cy="683.9" r="0.85" fill="#aaaaaa"/>
<circle cx="1119.0" cy="683.5" r="0.85" fill="#aaaaaa"/>
<circle cx="1123.0" cy="683.1" r="0.85" fill="#aaaaaa"/>
<circle cx="1127.0" cy="682.7" r="0.85" fill="#aaaaaa"/>
<circle cx="1131.0" cy="682.3" r="0.85" fill="#aaaaaa"/>
<circle cx="1135.0" cy="681.8" r="0.85" fill="#aaaaaa"/>
<circle cx="1139.0" cy="681.4" r="0.85" fill="#aaaaaa"/>
<circle cx="1143.0" cy="681.0" r="0.85" fill="#aaaaaa"/>
<circle cx="1083.0" cy="690.9" r="0.85" fill="#aaaaaa"/>
<circle cx="1087.0" cy="690.5" r="0.85" fill="#aaaaaa"/>
<circle cx="1091.0" cy="690.1" r="0.85" fill="#aaaaaa"/>
<circle cx="1095.0" cy="689.6" r="0.85" fill="#aaaaaa"/>
<circle cx="1099.0" cy="689.2" r="0.85" fill="#aaaaaa"/>
<circle cx="1103.0" cy="688.8" r="0.85" fill="#aaaaaa"/>
<circle cx="1107.0" cy="688.4" r="0.85" fill="#aaaaaa"/>
<circle cx="1111.0" cy="688.0" r="0.85" fill="#aaaaaa"/>
<circle cx="1115.0" cy="687.5" r="0.85" fill="#aaaaaa"/>
<circle cx="1119.0" cy="687.1" r="0.85" fill="#aaaaaa"/>
<circle cx="1123.0" cy="686.7" r="0.85" fill="#aaaaaa"/>
<circle cx="1127.0" cy="686.3" r="0.85" fill="#aaaaaa"/>
<circle cx="1131.0" cy="685.9" r="0.85" fill="#aaaaaa"/>
<circle cx="1135.0" cy="685.4" r="0.85" fill="#aaaaaa"/>
<circle cx="1139.0" cy="685.0" r="0.85" fill="#aaaaaa"/>
<circle cx="1143.0" cy="684.6" r="0.85" fill="#aaaaaa"/>
<circle cx="1083.0" cy="694.5" r="0.85" fill="#aaaaaa"/>
<circle cx="1087.0" cy="694.1" r="0.85" fill="#aaaaaa"/>
<circle cx="1091.0" cy="693.7" r="0.85" fill="#aaaaaa"/>
<circle cx="1095.0" cy="693.2" r="0.85" fill="#aaaaaa"/>
<circle cx="1099.0" cy="692.8" r="0.85" fill="#aaaaaa"/>
<circle cx="1103.0" cy="692.4" r="0.85" fill="#aaaaaa"/>
<circle cx="1107.0" cy="692.0" r="0.85" fill="#aaaaaa"/>
<circle cx="1111.0" cy="691.6" r="0.85" fill="#aaaaaa"/>
<circle cx="1115.0" cy="691.1" r="0.85" fill="#aaaaaa"/>
<circle cx="1119.0" cy="690.7" r="0.85" fill="#aaaaaa"/>
<circle cx="1123.0" cy="690.3" r="0.85" fill="#aaaaaa"/>
<circle cx="1127.0" cy="689.9" r="0.85" fill="#aaaaaa"/>
<circle cx="1131.0" cy="689.5" r="0.85" fill="#aaaaaa"/>
<circle cx="1135.0" cy="689.0" r="0.85" fill="#aaaaaa"/>
<circle cx="1139.0" cy="688.6" r="0.85" fill="#aaaaaa"/>
<circle cx="1143.0" cy="688.2" r="0.85" fill="#aaaaaa"/>
<circle cx="1083.0" cy="698.1" r="0.85" fill="#aaaaaa"/>
<circle cx="1087.0" cy="697.7" r="0.85" fill="#aaaaaa"/>
<circle cx="1091.0" cy="697.3" r="0.85" fill="#aaaaaa"/>
<circle cx="1095.0" cy="696.8" r="0.85" fill="#aaaaaa"/>
<circle cx="1099.0" cy="696.4" r="0.85" fill="#aaaaaa"/>
<circle cx="1103.0" cy="696.0" r="0.85" fill="#aaaaaa"/>
<circle cx="1107.0" cy="695.6" r="0.85" fill="#aaaaaa"/>
<circle cx="1111.0" cy="695.2" r="0.85" fill="#aaaaaa"/>
<circle cx="1115.0" cy="694.7" r="0.85" fill="#aaaaaa"/>
<circle cx="1119.0" cy="694.3" r="0.85" fill="#aaaaaa"/>
<circle cx="1123.0" cy="693.9" r="0.85" fill="#aaaaaa"/>
<circle cx="1127.0" cy="693.5" r="0.85" fill="#aaaaaa"/>
<circle cx="1131.0" cy="693.1" r="0.85" fill="#aaaaaa"/>
<circle cx="1135.0" cy="692.6" r="0.85" fill="#aaaaaa"/>
<circle cx="1139.0" cy="692.2" r="0.85" fill="#aaaaaa"/>
<circle cx="1143.0" cy="691.8" r="0.85" fill="#aaaaaa"/>
<circle cx="1083.0" cy="701.7" r="0.85" fill="#aaaaaa"/>
<circle cx="1087.0" cy="701.3" r="0.85" fill="#aaaaaa"/>
<circle cx="1091.0" cy="700.9" r="0.85" fill="#aaaaaa"/>
<circle cx="1095.0" cy="700.4" r="0.85" fill="#aaaaaa"/>
<circle cx="1099.0" cy="700.0" r="0.85" fill="#aaaaaa"/>
<circle cx="1103.0" cy="699.6" r="0.85" fill="#aaaaaa"/>
<circle cx="1107.0" cy="699.2" r="0.85" fill="#aaaaaa"/>
<circle cx="1111.0" cy="698.8" r="0.85" fill="#aaaaaa"/>
<circle cx="1115.0" cy="698.3" r="0.85" fill="#aaaaaa"/>
<circle cx="1119.0" cy="697.9" r="0.85" fill="#aaaaaa"/>
<circle cx="1123.0" cy="697.5" r="0.85" fill="#aaaaaa"/>
<circle cx="1127.0" cy="697.1" r="0.85" fill="#aaaaaa"/>
<circle cx="1131.0" cy="696.7" r="0.85" fill="#aaaaaa"/>
<circle cx="1135.0" cy="696.2" r="0.85" fill="#aaaaaa"/>
<circle cx="1139.0" cy="695.8" r="0.85" fill="#aaaaaa"/>
<circle cx="1143.0" cy="695.4" r="0.85" fill="#aaaaaa"/>
<circle cx="1083.0" cy="705.3" r="0.85" fill="#aaaaaa"/>
<circle cx="1087.0" cy="704.9" r="0.85" fill="#aaaaaa"/>
<circle cx="1091.0" cy="704.5" r="0.85" fill="#aaaaaa"/>
<circle cx="1095.0" cy="704.0" r="0.85" fill="#aaaaaa"/>
<circle cx="1099.0" cy="703.6" r="0.85" fill="#aaaaaa"/>
<circle cx="1103.0" cy="703.2" r="0.85" fill="#aaaaaa"/>
<circle cx="1107.0" cy="702.8" r="0.85" fill="#aaaaaa"/>
<circle cx="1111.0" cy="702.4" r="0.85" fill="#aaaaaa"/>
<circle cx="1115.0" cy="701.9" r="0.85" fill="#aaaaaa"/>
<circle cx="1119.0" cy="701.5" r="0.85" fill="#aaaaaa"/>
<circle cx="1123.0" cy="701.1" r="0.85" fill="#aaaaaa"/>
<circle cx="1127.0" cy="700.7" r="0.85" fill="#aaaaaa"/>
<circle cx="1131.0" cy="700.3" r="0.85" fill="#aaaaaa"/>
<circle cx="1135.0" cy="699.8" r="0.85" fill="#aaaaaa"/>
<circle cx="1139.0" cy="699.4" r="0.85" fill="#aaaaaa"/>
<circle cx="1143.0" cy="699.0" r="0.85" fill="#aaaaaa"/>
<path d="M1091 719 l10 -7 l0 4 l30 -3 l0 8 l-30 3 l0 4z" fill="none" stroke="#767676" stroke-width="1.2"/>
<text x="1089" y="745" font-size="7" fill="#6c6c6c" transform="rotate(-5 1089 745) scale(-1,-1) translate(-2225,-1486)" font-weight="bold">PLUG IN</text>
<path d="M1040 625 l22 -3 l0 -2.5 l10 3.5 l-8 5 l0 -2.5 l-22 3z" fill="#8b8b8b" />
<path d="M1088 654 l22 -3 l0 -2.5 l10 3.5 l-8 5 l0 -2.5 l-22 3z" fill="#898989" />
<ellipse cx="1036" cy="706" rx="19" ry="48" fill="#8a8a8a" transform="rotate(-7 1036 706)"/>
<ellipse cx="1029" cy="705" rx="19.5" ry="46.5" fill="#909090" transform="rotate(-7 1029 705)"/>
<ellipse cx="1022" cy="704.5" rx="19.5" ry="44" fill="#3c3c3c" transform="rotate(-7 1022 704.5)"/>
<ellipse cx="1015" cy="704" rx="19.5" ry="43.5" fill="#8d8d8d" transform="rotate(-7 1015 704)"/>
<ellipse cx="1008.5" cy="704" rx="19" ry="42.5" fill="#9a9a9a" transform="rotate(-7 1008.5 704)"/>
<ellipse cx="1009.5" cy="704" rx="16" ry="39.5" fill="url(#g23)" transform="rotate(-7 1009.5 704)"/>
<ellipse cx="1108.0" cy="612.6" rx="13.3" ry="20.6" fill="#b4b4b4"/><ellipse cx="1107.5" cy="612.6" rx="12.1" ry="19.4" fill="none" stroke="#c6c6c6" stroke-width="1.6"/><ellipse cx="1109.5" cy="613.6" rx="7.3" ry="14.8" fill="#a6a6a6"/><path d="M1111.0 604.4 q-2.2 8.2 0 16.5" fill="none" stroke="#7c7c7c" stroke-width="1.8"/></g>
<g><path d="M953.5 806.0 L954.3 859.5 Q959.3 864.0 964.3 859.5 L965.1 806.0 Z" fill="url(#g24)"/>
<path d="M1043.4 812.0 L1044.2 844.0 Q1048.7 848.5 1053.2 844.0 L1054.0 812.0 Z" fill="url(#g25)"/>
<path d="M1052.2 868.0 L1053.0 931.0 Q1059.4 935.5 1065.9 931.0 L1066.7 868.0 Z" fill="url(#g26)"/>
<path d="M1149.7 860.0 L1150.5 918.5 Q1156.5 923.0 1162.5 918.5 L1163.3 860.0 Z" fill="url(#g27)"/>
<path d="M1094.0 866.0 L1094.8 881.7 Q1099.5 886.2 1104.2 881.7 L1105.0 866.0 Z" fill="url(#g28)"/>
<path d="M925.5 792.9 L1054.0 774.5 L1183.6 849.9 L1024.1 862.5 L1011.1 853.3 L1101.2 845.6 Q1109.0 844.9 1100.7 839.8 L1033.3 797.9 Q1022.6 791.3 1014.7 792.4 L939.0 802.4 Z" fill="#7e7e7e" transform="translate(0,10.5)"/>
<polygon points="1024.1,862.5 1183.6,849.9 1183.6,860.4 1025.6,874.0" fill="#8d8d8d" />
<polygon points="1011.1,853.3 1024.1,862.5 1025.6,874.0 1011.1,863.8" fill="#858585" />
<polygon points="925.5,792.9 939.0,802.4 939.0,812.9 925.5,803.4" fill="#838383" />
<polygon points="939.0,802.4 1014.7,792.4 1014.7,800.9 939.0,810.9" fill="#868686" />
<path d="M925.5 792.9 L1054.0 774.5 L1183.6 849.9 L1024.1 862.5 L1011.1 853.3 L1101.2 845.6 Q1109.0 844.9 1100.7 839.8 L1033.3 797.9 Q1022.6 791.3 1014.7 792.4 L939.0 802.4 Z" fill="#8b8b8b"/>
<ellipse cx="938.6" cy="796.6" rx="2.1" ry="1.3" fill="#676767"/><ellipse cx="1025.4" cy="857.2" rx="2.1" ry="1.3" fill="#676767"/><ellipse cx="945.1" cy="795.7" rx="2.1" ry="1.3" fill="#676767"/><ellipse cx="1033.3" cy="856.6" rx="2.1" ry="1.3" fill="#676767"/><ellipse cx="951.7" cy="794.8" rx="2.1" ry="1.3" fill="#676767"/><ellipse cx="1041.1" cy="855.9" rx="2.1" ry="1.3" fill="#676767"/><ellipse cx="958.2" cy="793.9" rx="2.1" ry="1.3" fill="#676767"/><ellipse cx="1049.0" cy="855.3" rx="2.1" ry="1.3" fill="#676767"/><ellipse cx="964.7" cy="793.0" rx="2.1" ry="1.3" fill="#676767"/><ellipse cx="1056.9" cy="854.6" rx="2.1" ry="1.3" fill="#676767"/><ellipse cx="971.2" cy="792.1" rx="2.1" ry="1.3" fill="#676767"/><ellipse cx="1064.8" cy="854.0" rx="2.1" ry="1.3" fill="#676767"/><ellipse cx="977.8" cy="791.2" rx="2.1" ry="1.3" fill="#676767"/><ellipse cx="1072.6" cy="853.3" rx="2.1" ry="1.3" fill="#676767"/><ellipse cx="984.3" cy="790.3" rx="2.1" ry="1.3" fill="#676767"/><ellipse cx="1080.5" cy="852.7" rx="2.1" ry="1.3" fill="#676767"/><ellipse cx="990.8" cy="789.4" rx="2.1" ry="1.3" fill="#676767"/><ellipse cx="1088.4" cy="852.0" rx="2.1" ry="1.3" fill="#676767"/><ellipse cx="997.4" cy="788.5" rx="2.1" ry="1.3" fill="#676767"/><ellipse cx="1096.2" cy="851.4" rx="2.1" ry="1.3" fill="#676767"/><ellipse cx="1003.9" cy="787.6" rx="2.1" ry="1.3" fill="#676767"/><ellipse cx="1104.1" cy="850.7" rx="2.1" ry="1.3" fill="#676767"/><ellipse cx="1010.4" cy="786.7" rx="2.1" ry="1.3" fill="#676767"/><ellipse cx="1112.0" cy="850.1" rx="2.1" ry="1.3" fill="#676767"/><ellipse cx="1016.9" cy="785.8" rx="2.1" ry="1.3" fill="#676767"/><ellipse cx="1119.9" cy="849.4" rx="2.1" ry="1.3" fill="#676767"/><ellipse cx="1023.5" cy="784.9" rx="2.1" ry="1.3" fill="#676767"/><ellipse cx="1031.5" cy="789.8" rx="2.1" ry="1.3" fill="#676767"/><ellipse cx="1039.5" cy="794.8" rx="2.1" ry="1.3" fill="#676767"/><ellipse cx="1047.5" cy="799.7" rx="2.1" ry="1.3" fill="#676767"/><ellipse cx="1055.5" cy="804.6" rx="2.1" ry="1.3" fill="#676767"/><ellipse cx="1063.6" cy="809.5" rx="2.1" ry="1.3" fill="#676767"/><ellipse cx="1071.6" cy="814.4" rx="2.1" ry="1.3" fill="#676767"/><ellipse cx="1079.6" cy="819.3" rx="2.1" ry="1.3" fill="#676767"/><ellipse cx="1087.6" cy="824.2" rx="2.1" ry="1.3" fill="#676767"/><ellipse cx="1095.6" cy="829.1" rx="2.1" ry="1.3" fill="#676767"/><ellipse cx="1103.7" cy="834.0" rx="2.1" ry="1.3" fill="#676767"/><ellipse cx="1111.7" cy="838.9" rx="2.1" ry="1.3" fill="#676767"/><ellipse cx="1119.7" cy="843.9" rx="2.1" ry="1.3" fill="#676767"/><ellipse cx="1127.7" cy="848.8" rx="2.1" ry="1.3" fill="#676767"/><ellipse cx="1030.0" cy="784.0" rx="2.1" ry="1.3" fill="#676767"/><ellipse cx="1038.1" cy="789.0" rx="2.1" ry="1.3" fill="#676767"/><ellipse cx="1046.2" cy="793.9" rx="2.1" ry="1.3" fill="#676767"/><ellipse cx="1054.4" cy="798.8" rx="2.1" ry="1.3" fill="#676767"/><ellipse cx="1062.5" cy="803.8" rx="2.1" ry="1.3" fill="#676767"/><ellipse cx="1070.6" cy="808.7" rx="2.1" ry="1.3" fill="#676767"/><ellipse cx="1078.7" cy="813.6" rx="2.1" ry="1.3" fill="#676767"/><ellipse cx="1086.9" cy="818.5" rx="2.1" ry="1.3" fill="#676767"/><ellipse cx="1095.0" cy="823.5" rx="2.1" ry="1.3" fill="#676767"/><ellipse cx="1103.1" cy="828.4" rx="2.1" ry="1.3" fill="#676767"/><ellipse cx="1111.2" cy="833.3" rx="2.1" ry="1.3" fill="#676767"/><ellipse cx="1119.4" cy="838.3" rx="2.1" ry="1.3" fill="#676767"/><ellipse cx="1127.5" cy="843.2" rx="2.1" ry="1.3" fill="#676767"/><ellipse cx="1135.6" cy="848.1" rx="2.1" ry="1.3" fill="#676767"/><ellipse cx="1036.5" cy="783.1" rx="2.1" ry="1.3" fill="#676767"/><ellipse cx="1044.8" cy="788.1" rx="2.1" ry="1.3" fill="#676767"/><ellipse cx="1053.0" cy="793.0" rx="2.1" ry="1.3" fill="#676767"/><ellipse cx="1061.2" cy="798.0" rx="2.1" ry="1.3" fill="#676767"/><ellipse cx="1069.4" cy="802.9" rx="2.1" ry="1.3" fill="#676767"/><ellipse cx="1077.7" cy="807.9" rx="2.1" ry="1.3" fill="#676767"/><ellipse cx="1085.9" cy="812.8" rx="2.1" ry="1.3" fill="#676767"/><ellipse cx="1094.1" cy="817.8" rx="2.1" ry="1.3" fill="#676767"/><ellipse cx="1102.3" cy="822.7" rx="2.1" ry="1.3" fill="#676767"/><ellipse cx="1110.6" cy="827.7" rx="2.1" ry="1.3" fill="#676767"/><ellipse cx="1118.8" cy="832.6" rx="2.1" ry="1.3" fill="#676767"/><ellipse cx="1127.0" cy="837.6" rx="2.1" ry="1.3" fill="#676767"/><ellipse cx="1135.2" cy="842.5" rx="2.1" ry="1.3" fill="#676767"/><ellipse cx="1143.5" cy="847.5" rx="2.1" ry="1.3" fill="#676767"/><ellipse cx="1043.1" cy="782.2" rx="2.1" ry="1.3" fill="#676767"/><ellipse cx="1051.4" cy="787.2" rx="2.1" ry="1.3" fill="#676767"/><ellipse cx="1059.7" cy="792.2" rx="2.1" ry="1.3" fill="#676767"/><ellipse cx="1068.0" cy="797.1" rx="2.1" ry="1.3" fill="#676767"/><ellipse cx="1076.4" cy="802.1" rx="2.1" ry="1.3" fill="#676767"/><ellipse cx="1084.7" cy="807.1" rx="2.1" ry="1.3" fill="#676767"/><ellipse cx="1093.0" cy="812.0" rx="2.1" ry="1.3" fill="#676767"/><ellipse cx="1101.4" cy="817.0" rx="2.1" ry="1.3" fill="#676767"/><ellipse cx="1109.7" cy="822.0" rx="2.1" ry="1.3" fill="#676767"/><ellipse cx="1118.0" cy="826.9" rx="2.1" ry="1.3" fill="#676767"/><ellipse cx="1126.4" cy="831.9" rx="2.1" ry="1.3" fill="#676767"/><ellipse cx="1134.7" cy="836.9" rx="2.1" ry="1.3" fill="#676767"/><ellipse cx="1143.0" cy="841.9" rx="2.1" ry="1.3" fill="#676767"/><ellipse cx="1151.3" cy="846.8" rx="2.1" ry="1.3" fill="#676767"/><ellipse cx="1049.6" cy="781.3" rx="2.1" ry="1.3" fill="#676767"/><ellipse cx="1058.0" cy="786.3" rx="2.1" ry="1.3" fill="#676767"/><ellipse cx="1066.5" cy="791.3" rx="2.1" ry="1.3" fill="#676767"/><ellipse cx="1074.9" cy="796.3" rx="2.1" ry="1.3" fill="#676767"/><ellipse cx="1083.3" cy="801.3" rx="2.1" ry="1.3" fill="#676767"/><ellipse cx="1091.8" cy="806.3" rx="2.1" ry="1.3" fill="#676767"/><ellipse cx="1100.2" cy="811.3" rx="2.1" ry="1.3" fill="#676767"/><ellipse cx="1108.6" cy="816.2" rx="2.1" ry="1.3" fill="#676767"/><ellipse cx="1117.0" cy="821.2" rx="2.1" ry="1.3" fill="#676767"/><ellipse cx="1125.5" cy="826.2" rx="2.1" ry="1.3" fill="#676767"/><ellipse cx="1133.9" cy="831.2" rx="2.1" ry="1.3" fill="#676767"/><ellipse cx="1142.3" cy="836.2" rx="2.1" ry="1.3" fill="#676767"/><ellipse cx="1150.8" cy="841.2" rx="2.1" ry="1.3" fill="#676767"/><ellipse cx="1159.2" cy="846.2" rx="2.1" ry="1.3" fill="#676767"/><ellipse cx="1056.1" cy="780.4" rx="2.1" ry="1.3" fill="#676767"/><ellipse cx="1064.6" cy="785.4" rx="2.1" ry="1.3" fill="#676767"/><ellipse cx="1073.2" cy="790.4" rx="2.1" ry="1.3" fill="#676767"/><ellipse cx="1081.7" cy="795.4" rx="2.1" ry="1.3" fill="#676767"/><ellipse cx="1090.3" cy="800.5" rx="2.1" ry="1.3" fill="#676767"/><ellipse cx="1098.8" cy="805.5" rx="2.1" ry="1.3" fill="#676767"/><ellipse cx="1107.3" cy="810.5" rx="2.1" ry="1.3" fill="#676767"/><ellipse cx="1115.9" cy="815.5" rx="2.1" ry="1.3" fill="#676767"/><ellipse cx="1124.4" cy="820.5" rx="2.1" ry="1.3" fill="#676767"/><ellipse cx="1132.9" cy="825.5" rx="2.1" ry="1.3" fill="#676767"/><ellipse cx="1141.5" cy="830.5" rx="2.1" ry="1.3" fill="#676767"/><ellipse cx="1150.0" cy="835.5" rx="2.1" ry="1.3" fill="#676767"/><ellipse cx="1158.6" cy="840.5" rx="2.1" ry="1.3" fill="#676767"/><ellipse cx="1167.1" cy="845.5" rx="2.1" ry="1.3" fill="#676767"/>
<path d="M925.5 792.9 L1054.0 774.5 L1183.6 849.9 L1024.1 862.5 L1011.1 853.3 L1101.2 845.6 Q1109.0 844.9 1100.7 839.8 L1033.3 797.9 Q1022.6 791.3 1014.7 792.4 L939.0 802.4 Z" fill="none" stroke="#979797" stroke-width="2.4" stroke-linejoin="round"/>
<path d="M1011.1 853.3 L1101.2 845.6 Q1109.0 844.9 1100.7 839.8 L1033.3 797.9 Q1022.6 791.3 1014.7 792.4 L939.0 802.4" fill="none" stroke="#a3a3a3" stroke-width="2.6"/>
<path d="M1090.8 816 L1094 780 Q1102 774 1110 780 L1113 815.5 Q1102 823 1090.8 816 Z" fill="url(#g29)" />
<ellipse cx="1102" cy="779.6" rx="8" ry="3" fill="#787878"/></g>
<g><path d="M722 997 L784 978.5 L802 1066 L738 1079 Z" fill="url(#g30)" />
<path d="M780.5 975 L813 969.5 C836 968.5 840 1060 824 1067.5 L800 1071 C783 1060 770.5 990 780.5 975 Z" fill="url(#g31)" />
<path d="M780.5 975 C770.5 990 783 1060 800 1071" fill="none" stroke="#7e7f81" stroke-width="1.2"/>
<ellipse cx="820.5" cy="1018.5" rx="13.5" ry="48.8" fill="url(#g32)" transform="rotate(-3 820.5 1018.5)"/>
<path d="M632 1011.5 L712 996 C730 996 744 1030 744 1058 C744 1078 738 1088 728 1092 L646 1110.5 C624 1104 616 1030 632 1011.5 Z" fill="url(#g33)" />
<path d="M712 996 C730 996 744 1030 744 1058 C744 1078 738 1088 728 1092" fill="none" stroke="#7f8082" stroke-width="1.1"/>
<ellipse cx="638" cy="1061" rx="19" ry="49.5" fill="#a4a5a7" transform="rotate(-4 638 1061)"/>
<ellipse cx="640" cy="1061" rx="16" ry="46" fill="url(#g34)" transform="rotate(-4 640 1061)"/></g>
<g><path d="M584 1357 L606 1385 Q609 1388.5 614 1387 L820 1327 L912 1296 L970 1280 L1020 1266 L1058 1247 L1060 1234 L940 1270 Z" fill="#a9a9a9" />
<path d="M595 1372 L820 1318.5 L935 1285" fill="none" stroke="#868686" stroke-width="1.3"/>
<path d="M1061 1235 C1064 1242 1062 1249 1054 1253 L1020 1267 L972 1279 L938 1280 L1020 1244 Z" fill="#787878" />
<path d="M538 1288 L551 1293 L566 1322 L556 1320 Z" fill="#6c6c6c" />
<path d="M536.5 1279 C534.5 1273 537 1271 543 1269.5 Q760 1205.8 978 1169.6 Q982.5 1168.4 986 1171.5 L1048 1224 C1058 1231.5 1064 1236 1056 1239 L1020 1246 L940 1277 L820 1310.5 L590 1361.5 Q586 1362.5 584 1359 C566 1330 546 1304 536.5 1279 Z" fill="#a2a2a2" />
<path d="M536.5 1279 C534.5 1273 537 1271 543 1269.5 Q760 1205.8 978 1169.6 Q982.5 1168.4 986 1171.5 L1048 1224 C1058 1231.5 1064 1236 1056 1239 L1020 1246 L940 1277 L820 1310.5 L590 1361.5 Q586 1362.5 584 1359 C566 1330 546 1304 536.5 1279 Z" fill="#a2a2a2" filter="url(#mott)"/>
<path d="M590 1361.5 L820 1310.5 L940 1277 L1020 1246 L1056 1239" fill="none" stroke="#808080" stroke-width="1.5"/></g>
<g><ellipse cx="862.2" cy="1363.4" rx="25.4" ry="14.6" fill="none" stroke="#9a9a9a" stroke-width="4.4"/>
<ellipse cx="862.2" cy="1363.4" rx="25.4" ry="14.6" fill="none" stroke="#c6c6c6" stroke-width="1.6"/>
<path d="M847.5 1375.5 L791 1431.5 L808 1444" fill="none" stroke="#8c8c8c" stroke-width="4.2" stroke-linejoin="round" stroke-linecap="round"/>
<path d="M847.5 1375.5 L791 1431.5 L808 1444" fill="none" stroke="#c4c4c4" stroke-width="1.3" stroke-linejoin="round" stroke-linecap="round"/></g>
<g><ellipse cx="1353.9" cy="1283" rx="47.7" ry="26.5" fill="#222222"/>
<ellipse cx="1353.9" cy="1279.5" rx="47.7" ry="26.6" fill="#2d2d2d"/>
<ellipse cx="1351" cy="1290" rx="5" ry="3" fill="#0e0e0e"/>
<polygon points="1346.0,1228.0 1359.0,1228.0 1359.0,1272.0 1346.0,1272.0" fill="url(#g35)" />
<polygon points="1342.0,1262.0 1364.0,1262.0 1364.0,1274.0 1342.0,1274.0" fill="url(#g36)" />
<polygon points="1306.8,1191.0 1326.0,1183.2 1357.2,1195.8 1357.2,1200.0 1327.2,1208.4 1308.0,1195.8" fill="#dcdcdc" stroke="#b0b0b0" stroke-width="0.8"/>
<polygon points="1325.0,1203.0 1358.6,1196.0 1358.6,1240.0 1328.0,1246.0" fill="url(#g37)" />
<polygon points="1328.0,1240.0 1358.0,1234.0 1376.0,1246.0 1344.0,1254.0" fill="#c9c9c9" />
<polygon points="1344.0,1254.0 1376.0,1246.0 1376.0,1249.0 1344.0,1257.5" fill="#9e9e9e" />
<ellipse cx="1338" cy="1190.5" rx="7" ry="3.2" fill="#b4b4b4"/>
<polygon points="1311.0,1203.0 1318.0,1200.0 1319.0,1210.0 1313.0,1212.0" fill="#a5a5a5" />
<polygon points="1345.0,1229.0 1360.0,1229.0 1360.0,1245.0 1345.0,1245.0" fill="url(#g38)" />
<ellipse cx="1352.5" cy="1229" rx="7.5" ry="3" fill="#6d6d6d"/>
<ellipse cx="1352.5" cy="1246" rx="10" ry="3.2" fill="#b9b9b9"/></g>
<g><rect x="75.4" y="1276.8" width="147.6" height="147.9" fill="#70706f"/>
<path d="M91 1323 L100.5 1323.5 Q94 1349 101.5 1373 L91.5 1374 Q83.7 1349 91 1323 Z" fill="#ffffff" />
<path d="M104.5 1324.5 L141.5 1324.5 Q135.5 1349 141.5 1372 L105 1372 Q97.6 1349 104.5 1324.5 Z" fill="#ffffff" />
<path d="M145.5 1326.2 L149.8 1326.5 Q145.3 1349 149.5 1370 L145.5 1370.5 Q140.5 1349 145.5 1326.2 Z" fill="#ffffff" />
<path d="M159 1317 L200.5 1317 Q194.2 1349 201.2 1381.5 L159 1381.5 Q155.5 1381 155 1377.5 Q149 1349 155 1321 Q155.5 1317.5 159 1317 Z" fill="#ffffff" />
<ellipse cx="205.5" cy="1349" rx="3.7" ry="32" fill="#ffffff"/></g></g>
</svg>
</body>
</html>
